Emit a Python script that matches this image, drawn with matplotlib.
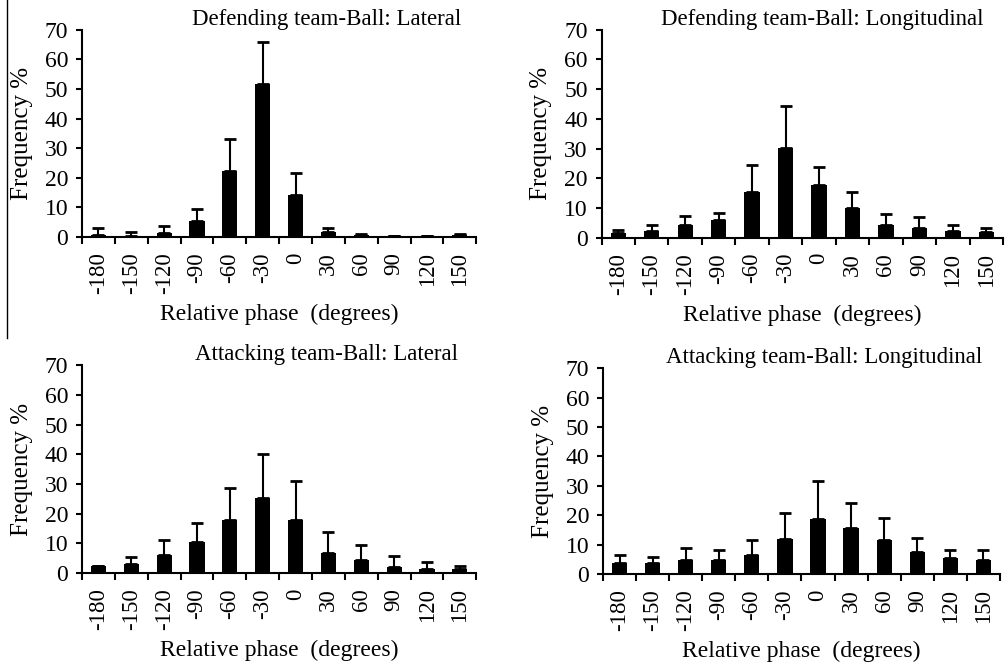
import numpy as np
import matplotlib
matplotlib.use('Agg')
import matplotlib.pyplot as plt
from matplotlib.lines import Line2D

plt.rcParams['font.family'] = ['Liberation Serif', 'DejaVu Serif']

phase_labels = ['-180', '-150', '-120', '-90', '-60', '-30', '0', '30', '60', '90', '120', '150']

def_lat_mean = [0.8, 0.5, 1.2, 5.3, 22.2, 51.6, 14.1, 1.7, 0.8, 0.3, 0.3, 0.8]
def_lat_sd = [2.2, 1.2, 2.5, 4.0, 10.8, 14.3, 7.6, 1.3, 0.3, 0.0, 0.0, 0.3]

def_lon_mean = [1.7, 2.3, 4.3, 5.9, 15.5, 30.1, 17.7, 10.0, 4.3, 3.3, 2.3, 1.8]
def_lon_sd = [1.0, 1.9, 2.9, 2.5, 8.8, 14.1, 6.1, 5.5, 3.5, 3.5, 2.0, 1.4]

att_lat_mean = [2.2, 3.1, 6.2, 10.3, 17.9, 25.4, 17.9, 6.7, 4.5, 2.0, 1.5, 1.5]
att_lat_sd = [0.3, 2.3, 4.8, 6.5, 10.7, 14.7, 13.1, 7.0, 5.0, 3.9, 2.1, 0.7]

att_lon_mean = [3.9, 3.9, 4.8, 4.8, 6.4, 12.0, 18.7, 15.8, 11.6, 7.5, 5.3, 4.9]
att_lon_sd = [2.5, 1.8, 3.9, 3.4, 5.0, 8.7, 12.9, 8.5, 7.6, 4.9, 2.9, 3.4]

panels = [
    ('Defending team-Ball: Lateral', def_lat_mean, def_lat_sd, [0.0815, 0.642, 0.392, 0.313], 0.62),
    ('Defending team-Ball: Longitudinal', def_lon_mean, def_lon_sd, [0.598, 0.641, 0.399, 0.314], 0.55),
    ('Attacking team-Ball: Lateral', att_lat_mean, att_lat_sd, [0.0815, 0.1344, 0.392, 0.314], 0.62),
    ('Attacking team-Ball: Longitudinal', att_lon_mean, att_lon_sd, [0.5994, 0.1329, 0.3946, 0.311], 0.556),
]


def draw_panel(ax, title, mean, sd, title_x):
    x = np.arange(len(phase_labels))
    ax.bar(x, mean, width=0.46, color='black', zorder=2)
    ax.errorbar(x, mean, yerr=[np.zeros(len(sd)), sd], fmt='none',
                ecolor='black', elinewidth=1.5, capsize=4, capthick=2, zorder=1)

    ax.set_xlim(-0.5, len(phase_labels) - 0.5)
    ax.set_ylim(0, 70)
    ax.set_yticks(range(0, 71, 10))

    # category axis: tick marks between categories, labels at centres
    ax.set_xticks(np.arange(-0.5, len(phase_labels), 1.0))
    ax.set_xticklabels([])
    ax.set_xticks(x, minor=True)
    ax.set_xticklabels(phase_labels, minor=True, rotation=90, fontsize=16.5)
    ax.tick_params(axis='x', which='major', length=5, width=1.5, direction='out')
    ax.tick_params(axis='x', which='minor', length=0, pad=11)
    ax.tick_params(axis='y', length=4, width=1.5, labelsize=17, pad=6)

    for s in ['top', 'right']:
        ax.spines[s].set_visible(False)
    for s in ['left', 'bottom']:
        ax.spines[s].set_linewidth(1.5)

    ax.set_ylabel('Frequency %', fontsize=18, labelpad=8.5)
    ax.set_xlabel('Relative phase  (degrees)', fontsize=17, labelpad=7)
    ax.text(title_x, 1.05, title, transform=ax.transAxes, ha='center', va='center', fontsize=16.5)


fig = plt.figure(figsize=(10.06, 6.62), dpi=100)
for title, mean, sd, rect, tx in panels:
    ax = fig.add_axes(rect)
    draw_panel(ax, title, mean, sd, tx)

# thin border line on the left edge of the original figure
fig.add_artist(Line2D([0.0073, 0.0073], [1.0, 0.49], transform=fig.transFigure, color='black', linewidth=1))

plt.savefig('out.png', dpi=100)
plt.close()
